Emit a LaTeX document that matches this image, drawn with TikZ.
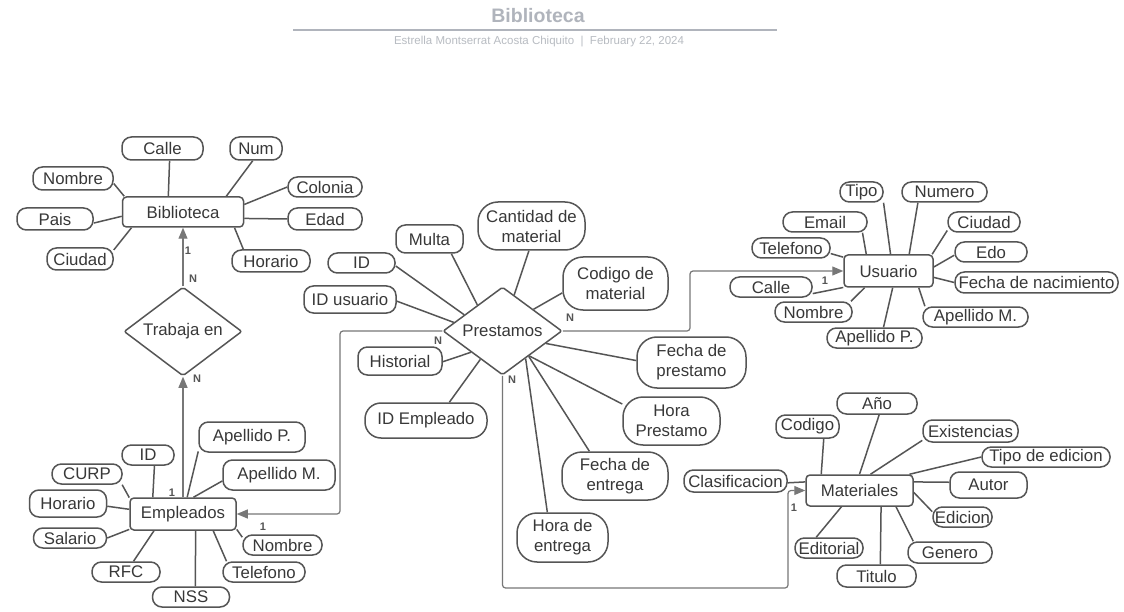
\documentclass[tikz,border=0pt]{standalone}
\usepackage{fontspec}
\setmainfont{Liberation Sans}
\usetikzlibrary{shapes.geometric,arrows.meta}
\definecolor{lc}{HTML}{555555}
\definecolor{tc}{HTML}{383838}
\definecolor{ac}{HTML}{777777}
\definecolor{hc}{HTML}{B0B4BC}
\definecolor{hc2}{HTML}{B8BCC2}
\newcommand\fs{\fontsize{16.8}{20}\selectfont}
\tikzset{
  base/.style={draw=lc, line width=1.5pt, text=tc, font=\fs, inner sep=0pt, align=center},
  ent/.style={base, rectangle, rounded corners=4pt},
  attr/.style={base, rectangle, rounded corners=9.5pt},
  attrb/.style={base, rectangle, rounded corners=20pt},
  rel/.style={base, diamond, inner sep=0pt, aspect=1.33, rounded corners=2pt},
  ln/.style={draw=lc, line width=1.5pt},
  arr/.style={draw=ac, line width=1.2pt, rounded corners=3pt, -{Triangle[length=11pt,width=9pt]}},
  lbl/.style={text=lc, font=\bfseries\fontsize{11}{12}\selectfont, inner sep=0pt},
  sz/.style 2 args={minimum width=#1pt, minimum height=#2pt}
}
\begin{document}
\begin{tikzpicture}[x=1pt,y=-1pt]
\useasboundingbox[fill=white] (0,0) rectangle (1124,612);
% header
\node[text=hc, font=\bfseries\fontsize{19.5}{22}\selectfont] (title) at (538,16) {Biblioteca};
\coordinate (hl1) at (293,30); \coordinate (hl2) at (777,30);
\draw[hc, line width=1.2pt] (hl1) -- (hl2);
\node[text=hc2, font=\fontsize{11.5}{13}\selectfont] (sub) at (539,42) {Estrella Montserrat Acosta Chiquito\ \ |\ \ February 22, 2024};

% Biblioteca cluster
\node[ent, sz={121}{30}] (bib) at (183,212) {Biblioteca};
\node[attr, sz={81}{23}] (calle1) at (162.5,148.5) {Calle};
\node[attr, sz={52}{23}] (num) at (256,148.5) {Num};
\node[attr, sz={80}{23}] (nombre1) at (73,178.5) {Nombre};
\node[attr, sz={74}{20}] (colonia) at (325,187) {Colonia};
\node[attr, sz={76}{22}] (pais) at (55,219) {Pais};
\node[attr, sz={74}{22}] (edad) at (325,219) {Edad};
\node[attr, sz={66}{22}] (ciudad1) at (80,259) {Ciudad};
\node[attr, sz={78}{22}] (horario1) at (271,261) {Horario};
\node[rel, sz={118}{89}] (trab) at (183,331.5) {Trabaja en};

\draw[ln] (bib.133) -- (calle1.-60);
\draw[ln] (bib.20) -- (num.-105);
\draw[ln] (bib.165) -- (nombre1.-7);
\draw[ln] (bib.7) -- (colonia.180);
\draw[ln] (bib.-176) -- (pais.-6);
\draw[ln] (bib.-6) -- (edad.180);
\draw[ln] (bib.-163) -- (ciudad1.15);
\draw[ln] (bib.-17) -- (horario1.157);

% Empleados cluster
\node[ent, sz={106}{32}] (emp) at (183,514) {Empleados};
\node[attr, sz={106}{30}] (apP1) at (252,437) {Apellido P.};
\node[attr, sz={112}{30}] (apM1) at (279,475) {Apellido M.};
\node[attr, sz={52}{20}] (id1) at (148,455) {ID};
\node[attr, sz={70}{20}] (curp) at (87,474) {CURP};
\node[attr, sz={77}{27}] (horario2) at (68,503.5) {Horario};
\node[attr, sz={73}{20}] (salario) at (70,538) {Salario};
\node[attr, sz={68}{20}] (rfc) at (126,572) {RFC};
\node[attr, sz={77}{20}] (nss) at (191,597) {NSS};
\node[attr, sz={82}{20}] (tel1) at (264,572) {Telefono};
\node[attr, sz={79}{20}] (nombre2) at (282.5,545) {Nombre};

\draw[ln] (emp.76) -- (apP1.-165);
\draw[ln] (emp.58) -- (apM1.-174);
\draw[ln] (emp.151) -- (id1.-59);
\draw[ln] (emp.163) -- (curp.-17);
\draw[ln] (emp.175) -- (horario2.-4);
\draw[ln] (emp.-164) -- (salario.0);
\draw[ln] (emp.-150) -- (rfc.55);
\draw[ln] (emp.-53) -- (nss.68);
\draw[ln] (emp.-29) -- (tel1.164);
\draw[ln] (emp.-16) -- (nombre2.169);

% Prestamos cluster
\node[rel, sz={119}{88}] (pres) at (502.5,331) {Prestamos};
\node[attr, sz={67}{28}] (multa) at (429.5,239) {Multa};
\node[attrb, sz={107}{48}] (cant) at (531.5,226) {Cantidad de\\material};
\node[attrb, sz={105}{53}] (cod) at (615.5,283.5) {Codigo de\\material};
\node[attr, sz={67}{20}] (id2) at (361.5,263) {ID};
\node[attr, sz={92}{27}] (idu) at (350,299.5) {ID usuario};
\node[attr, sz={84}{28}] (hist) at (400,361) {Historial};
\node[attrb, sz={109}{51}] (fdp) at (691.5,362.5) {Fecha de\\prestamo};
\node[attr, sz={122}{35}, rounded corners=16pt] (ide) at (426,420.5) {ID Empleado};
\node[attrb, sz={97}{48}] (hp) at (671.5,421) {Hora\\Prestamo};
\node[attrb, sz={106}{48}] (fde) at (615,476) {Fecha de\\entrega};
\node[attrb, sz={91}{49}] (hde) at (562.5,537.5) {Hora de\\entrega};

\draw[ln] (pres.134) -- (multa.-34);
\draw[ln] (pres.72) -- (cant.-96);
\draw[ln] (pres.35) -- (cod.190);
\draw[ln] (pres.157) -- (id2.-5);
\draw[ln] (pres.170) -- (idu.-2);
\draw[ln] (pres.-146) -- (hist.-1);
\draw[ln] (pres.-16) -- (fdp.178);
\draw[ln] (pres.-128) -- (ide.38.5);
\draw[ln] (pres.-43) -- (hp.161);
\draw[ln] (pres.-44) -- (fde.136);
\draw[ln] (pres.-50) -- (hde.121);

% Usuario cluster
\node[ent, sz={89}{32}] (usu) at (888.5,271) {Usuario};
\node[attr, sz={43}{20}] (tipo) at (861.5,192) {Tipo};
\node[attr, sz={85}{20}] (numero) at (944.5,192) {Numero};
\node[attr, sz={84}{20}] (email) at (825,222) {Email};
\node[attr, sz={72}{20}] (ciudad2) at (984,222) {Ciudad};
\node[attr, sz={78}{20}] (tel2) at (791,248) {Telefono};
\node[attr, sz={72}{20}] (edo) at (991,252) {Edo};
\node[attr, sz={82}{20}] (calle2) at (771,287) {Calle};
\node[attr, sz={163}{21}] (fdn) at (1036.5,282.5) {Fecha de nacimiento};
\node[attr, sz={77}{20}] (nombre3) at (813.5,312) {Nombre};
\node[attr, sz={105}{20}] (apM2) at (975.5,317) {Apellido M.};
\node[attr, sz={95}{20}] (apP2) at (874.5,338) {Apellido P.};

\draw[ln] (usu.83) -- (tipo.-26);
\draw[ln] (usu.39) -- (numero.-158);
\draw[ln] (usu.143) -- (email.-16);
\draw[ln] (usu.21) -- (ciudad2.-167);
\draw[ln] (usu.163) -- (tel2.-8);
\draw[ln] (usu.5) -- (edo.-175);
\draw[ln] (usu.-160) -- (calle2.-9);
\draw[ln] (usu.-8) -- (fdn.180);
\draw[ln] (usu.-145) -- (nombre3.16);
\draw[ln] (usu.-29) -- (apM2.168);
\draw[ln] (usu.-76) -- (apP2.50);

% Materiales cluster
\node[ent, sz={107}{31}] (mat) at (859.5,490.5) {Materiales};
\node[attr, sz={80}{21}] (anio) at (877,403.5) {Año};
\node[attr, sz={63}{23}] (codigo) at (807.5,426.5) {Codigo};
\node[attr, sz={95}{22}] (exist) at (970.5,431) {Existencias};
\node[attr, sz={128}{20}] (tde) at (1046,457) {Tipo de edicion};
\node[attr, sz={103}{22}] (clas) at (735.5,481) {Clasificacion};
\node[attr, sz={77}{26}] (autor) at (988.5,485) {Autor};
\node[attr, sz={59}{20}] (edicion) at (962.5,517) {Edicion};
\node[attr, sz={68}{20}] (editorial) at (829,548) {Editorial};
\node[attr, sz={84}{21}] (genero) at (950,552.5) {Genero};
\node[attr, sz={79}{22}] (titulo) at (876.5,576) {Titulo};

\draw[ln] (mat.157) -- (codigo.-37);
\draw[ln] (mat.90) -- (anio.-79);
\draw[ln] (mat.56) -- (exist.-169);
\draw[ln] (mat.18) -- (tde.180);
\draw[ln] (mat.171) -- (clas.-2);
\draw[ln] (mat.9) -- (autor.176);
\draw[ln] (mat.-2) -- (edicion.170);
\draw[ln] (mat.-138) -- (editorial.140);
\draw[ln] (mat.-37) -- (titulo.72);
\draw[ln] (mat.-24) -- (genero.163);

% relationships with arrows
\draw[arr] (trab.north) -- (bib.south);
\draw[arr] (emp.north) -- (trab.south);
\coordinate (bE) at (340,331);
\draw[arr] (pres.west) -- (bE) |- (emp.east);
\coordinate (bU) at (690,331);
\draw[arr] (pres.east) -- (bU) |- (usu.west);
\coordinate (bM1) at (502.5,588);
\coordinate (bM2) at (788,588);
\draw[arr] (pres.south) -- (bM1) -- (bM2) |- (mat.west);

% cardinality labels
\node[lbl] (c1) at (188,251) {1};
\node[lbl] (c2) at (193,279) {N};
\node[lbl] (c3) at (197,379) {N};
\node[lbl] (c4) at (172,493) {1};
\node[lbl] (c5) at (263,527) {1};
\node[lbl] (c6) at (570,318) {N};
\node[lbl] (c7) at (438,341) {N};
\node[lbl] (c8) at (512,380) {N};
\node[lbl] (c9) at (825,281) {1};
\node[lbl] (c10) at (794,508) {1};
\end{tikzpicture}
\end{document}
